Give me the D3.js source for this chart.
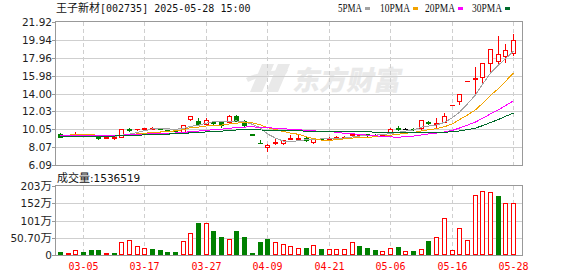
<!DOCTYPE html>
<html><head><meta charset="utf-8">
<script src="https://cdn.jsdelivr.net/npm/d3@7/dist/d3.min.js"></script>
<style>body{margin:0;background:#fff;}svg{display:block;}</style>
</head><body>
<svg id="c" width="578" height="276"></svg>
<script>
// ---------- data ----------
const dates = ["02-28","03-03","03-04","03-05","03-06","03-07","03-10","03-11","03-12","03-13","03-14","03-17","03-18","03-19","03-20","03-21","03-24","03-25","03-26","03-27","03-28","03-31","04-01","04-02","04-03","04-07","04-08","04-09","04-10","04-11","04-14","04-15","04-16","04-17","04-18","04-21","04-22","04-23","04-24","04-25","04-28","04-29","04-30","05-06","05-07","05-08","05-09","05-12","05-13","05-14","05-15","05-16","05-19","05-20","05-21","05-22","05-23","05-26","05-27","05-28"];
const opens  = [9.55,9.30,9.46,9.48,9.42,9.20,9.12,9.12,9.20,10.02,10.02,10.05,10.12,10.12,9.98,9.92,9.78,11.22,11.00,10.67,10.80,10.86,10.86,11.47,10.92,9.48,8.52,8.08,8.50,8.50,9.00,9.02,9.11,8.67,9.02,9.00,9.15,9.18,9.42,9.42,9.48,9.45,9.40,9.66,10.18,10.12,10.12,10.15,10.90,10.62,10.90,12.70,13.15,15.37,15.58,15.80,17.40,17.62,18.16,18.52];
const highs  = [9.58,9.45,9.70,9.52,9.46,9.28,9.22,9.22,10.05,10.20,10.12,10.18,10.25,10.14,10.00,9.95,10.55,11.50,11.29,11.29,10.90,10.90,11.58,11.65,11.11,9.55,8.85,8.45,9.10,8.90,9.38,9.38,9.20,8.98,9.10,9.15,9.30,9.30,9.68,9.50,9.55,9.55,9.50,10.15,10.38,10.15,10.15,11.05,10.95,11.25,11.80,12.70,13.97,15.37,16.96,17.35,18.96,20.41,19.43,20.59];
const lows   = [9.15,9.28,9.38,9.38,9.33,9.02,9.10,8.98,9.18,9.85,9.98,10.00,10.08,10.06,9.86,9.86,9.75,11.08,10.56,10.60,10.56,10.25,10.80,10.95,10.45,9.40,8.50,7.65,8.45,8.45,9.00,9.00,8.78,8.50,8.95,8.98,9.12,9.15,9.30,9.40,9.35,9.35,9.38,9.62,9.95,10.08,10.00,10.10,10.65,10.20,10.85,12.70,12.86,15.37,13.99,15.26,16.50,17.25,17.51,18.27];
const closes = [9.18,9.42,9.55,9.42,9.38,9.12,9.20,9.16,10.05,9.98,10.08,10.15,10.20,10.10,9.90,9.90,10.52,11.47,10.64,11.11,10.72,10.49,11.55,11.00,10.49,9.44,8.50,8.25,8.65,8.85,9.05,9.08,8.82,8.92,8.98,9.08,9.20,9.22,9.52,9.45,9.42,9.40,9.45,10.13,10.12,10.12,10.05,11.02,10.70,10.72,11.55,12.70,13.97,15.37,15.70,17.33,18.96,18.42,18.85,19.94];
// volume in 万 (10k shares)
const volumes = [10,7,15,10,15,15,6,6,38,44,26,20,18,15,10,10,41,65,95,95,70,53,47,70,53,7,38,47,38,32,26,20,20,28,18,18,18,18,38,26,20,15,12,20,23,12,12,18,41,53,108,15,79,44,176,188,185,174,152,153.6519];
// 1 = red (up), 0 = green (down) volume bar
const volUp = [0,1,1,0,0,0,1,0,1,1,1,1,0,0,0,0,1,1,0,1,0,0,1,0,0,0,0,0,1,1,1,1,0,1,0,1,1,1,1,0,0,0,1,1,0,1,0,1,0,1,1,1,1,1,1,1,1,0,1,1];
// closes of the 29 sessions before 02-28 (estimated from where the MA lines start)
const priorCloses = [9.00,8.95,9.05,9.10,9.02,8.98,9.05,9.12,9.08,9.10,9.15,9.10,9.20,9.18,9.25,9.22,9.30,9.28,9.35,9.32,9.38,9.35,9.42,9.40,9.45,9.48,9.42,9.50,9.45];
const priceTicks = [6.09,8.07,10.05,12.03,14.00,15.98,17.96,19.94,21.92];
const volTicks = [0,50.7,101.4,152.1,202.8];
const volTickLabels = ["0","50.70万","101万","152万","203万"];
const dateTicks = ["03-05","03-17","03-27","04-09","04-21","05-06","05-16","05-28"];
const maPeriods = [5,10,20,30];
const maNames = ["5PMA","10PMA","20PMA","30PMA"];
const maColors = ["#a3a3a3","#f2a300","#ff00ff","#006b2b"];
const stockName = "王子新材";
const stockInfo = "[002735] 2025-05-28 15:00";
const volTitle = "成交量";
const lastVolume = "1536519";

// ---------- drawing ----------
const RED = "#ff0000", GREEN = "#008000";
const svg = d3.select("#c");
const x = d3.scaleBand().domain(dates).range([56, 56 + dates.length * 7.68]);
const cx = d => Math.round(x(d) + x.bandwidth() / 2);
const y = d3.scaleLinear().domain([6.09, 21.92]).range([165, 22]);
const vy = d3.scaleLinear().domain([0, 202.8]).range([255, 186]);
const py = v => Math.round(y(v));

svg.append("rect").attr("width", 578).attr("height", 276).attr("fill", "#fff");

// watermark
const wm = svg.append("g").attr("fill", "#e9e9e9");
wm.append("text").attr("transform", "translate(292,90) skewX(-12)")
  .attr("font-family", "Noto Sans CJK SC").attr("font-weight", 900).attr("font-size", 27)
  .text("东方财富");
wm.append("path").attr("d", "M262,64 L274,64 L262,92 L250,92 Z");
wm.append("path").attr("d", "M278,64 L290,64 L278,92 L266,92 Z");
wm.append("path").attr("d", "M246,78 Q262,70 288,70 L286,74 Q264,74 248,82 Z");

// grid
const grid = svg.append("g").attr("shape-rendering", "crispEdges");
priceTicks.slice(1, -1).forEach(t => {
  grid.append("line").attr("x1", 56).attr("x2", 522).attr("y1", py(t) + 0.5).attr("y2", py(t) + 0.5)
    .attr("stroke", "#cfcfcf");
});
volTicks.slice(1, -1).forEach(t => {
  const yy = Math.round(vy(t)) + 0.5;
  grid.append("line").attr("x1", 56).attr("x2", 522).attr("y1", yy).attr("y2", yy).attr("stroke", "#cfcfcf");
});
dateTicks.forEach(t => {
  const xx = cx(t) + 0.5;
  grid.append("line").attr("x1", xx).attr("x2", xx).attr("y1", 22).attr("y2", 165)
    .attr("stroke", "#cfcfcf").attr("stroke-dasharray", "4,3");
  grid.append("line").attr("x1", xx).attr("x2", xx).attr("y1", 186).attr("y2", 255)
    .attr("stroke", "#cfcfcf").attr("stroke-dasharray", "4,3");
});

// candles
const gC = svg.append("g").attr("shape-rendering", "crispEdges");
dates.forEach((d, i) => {
  const o = opens[i], h = highs[i], l = lows[i], c = closes[i];
  const prev = i > 0 ? closes[i - 1] : priorCloses[priorCloses.length - 1];
  const col = c > o ? RED : c < o ? GREEN : (c > prev ? RED : c < prev ? GREEN : "#000");
  const X = cx(d);
  gC.append("line").attr("x1", X + 0.5).attr("x2", X + 0.5)
    .attr("y1", py(h)).attr("y2", py(l) + 1).attr("stroke", col);
  const yt = py(Math.max(o, c)), yb = py(Math.min(o, c));
  if (c > o && yb - yt >= 1) {
    gC.append("rect").attr("x", X - 1.5).attr("y", yt + 0.5).attr("width", 4).attr("height", yb - yt)
      .attr("fill", "#fff").attr("stroke", col);
  } else if (c < o) {
    gC.append("rect").attr("x", X - 2).attr("y", yt).attr("width", 5).attr("height", Math.max(1, yb - yt + 1))
      .attr("fill", col);
  } else {
    gC.append("line").attr("x1", X - 2).attr("x2", X + 3).attr("y1", yt + 0.5).attr("y2", yt + 0.5).attr("stroke", col);
  }
});

// moving averages
const allCloses = priorCloses.concat(closes);
const off = priorCloses.length;
maPeriods.forEach((p, k) => {
  const ma = dates.map((d, i) => d3.mean(allCloses.slice(off + i - p + 1, off + i + 1)));
  const line = d3.line().x((v, i) => cx(dates[i]) + 0.5).y(v => y(v));
  svg.append("path").attr("d", line(ma)).attr("fill", "none").attr("stroke", maColors[k])
    .attr("stroke-width", 1).attr("shape-rendering", "crispEdges");
});

// volume bars
const gV = svg.append("g").attr("shape-rendering", "crispEdges");
dates.forEach((d, i) => {
  const X = cx(d);
  const top = Math.round(vy(volumes[i]));
  if (volUp[i]) {
    gV.append("rect").attr("x", X - 1.5).attr("y", top + 0.5).attr("width", 4).attr("height", Math.max(0, 254.5 - top - 0.5))
      .attr("fill", "#fff").attr("stroke", RED);
  } else {
    gV.append("rect").attr("x", X - 2).attr("y", top).attr("width", 5).attr("height", 255 - top).attr("fill", GREEN);
  }
});

// frames
const fr = svg.append("g").attr("shape-rendering", "crispEdges").attr("fill", "none").attr("stroke", "#999");
fr.append("rect").attr("x", 55.5).attr("y", 21.5).attr("width", 467).attr("height", 144);
fr.append("rect").attr("x", 55.5).attr("y", 185.5).attr("width", 467).attr("height", 70);

// y axis ticks & labels
const ax = svg.append("g").attr("font-family", "DejaVu Sans").attr("font-size", 10.5).attr("fill", "#1e1e1e");
priceTicks.forEach(t => {
  const yy = py(t);
  svg.append("line").attr("x1", 52).attr("x2", 55).attr("y1", yy + 0.5).attr("y2", yy + 0.5)
    .attr("stroke", "#999").attr("shape-rendering", "crispEdges");
  ax.append("text").attr("x", 52).attr("y", yy + 4).attr("text-anchor", "end").text(t.toFixed(2));
});
volTicks.forEach((t, i) => {
  const yy = Math.round(vy(t));
  svg.append("line").attr("x1", 52).attr("x2", 55).attr("y1", yy + 0.5).attr("y2", yy + 0.5)
    .attr("stroke", "#999").attr("shape-rendering", "crispEdges");
  const lab = volTickLabels[i];
  const tx = ax.append("text").attr("x", 52).attr("y", yy + 4).attr("text-anchor", "end");
  const num = lab.replace("万", "");
  tx.append("tspan").text(num);
  if (lab.endsWith("万")) tx.append("tspan").attr("font-family", "Noto Sans CJK SC").attr("font-size", 11.5).text("万");
});

// date labels
svg.append("g").attr("font-family", "DejaVu Sans Mono").attr("font-size", 10).attr("fill", RED)
  .selectAll("text").data(dateTicks).join("text")
  .attr("x", d => cx(d) + 0.5).attr("y", 270).attr("text-anchor", "middle").text(d => d);

// title
const tt = svg.append("text").attr("x", 56).attr("y", 12).attr("fill", "#111");
tt.append("tspan").attr("font-family", "Noto Sans CJK SC").attr("font-size", 11).text(stockName);
tt.append("tspan").attr("font-family", "DejaVu Sans Mono").attr("font-size", 10).text(stockInfo);

// volume title
const vt = svg.append("text").attr("x", 57).attr("y", 182).attr("fill", "#111");
vt.append("tspan").attr("font-family", "Noto Sans CJK SC").attr("font-size", 11).text(volTitle);
vt.append("tspan").attr("font-family", "DejaVu Sans").attr("font-size", 10.5).text(":" + lastVolume);

// legend
const legX = [338, 380, 425, 472];
maNames.forEach((n, k) => {
  const w = n.length * 6;
  svg.append("text").attr("x", legX[k]).attr("y", 12).attr("font-family", "Liberation Serif").attr("font-size", 12)
    .attr("textLength", w).attr("lengthAdjust", "spacingAndGlyphs").attr("fill", "#111").text(n);
  svg.append("rect").attr("x", legX[k] + w + 3).attr("y", 7).attr("width", 5).attr("height", 3).attr("fill", maColors[k]);
});
</script>
</body></html>
